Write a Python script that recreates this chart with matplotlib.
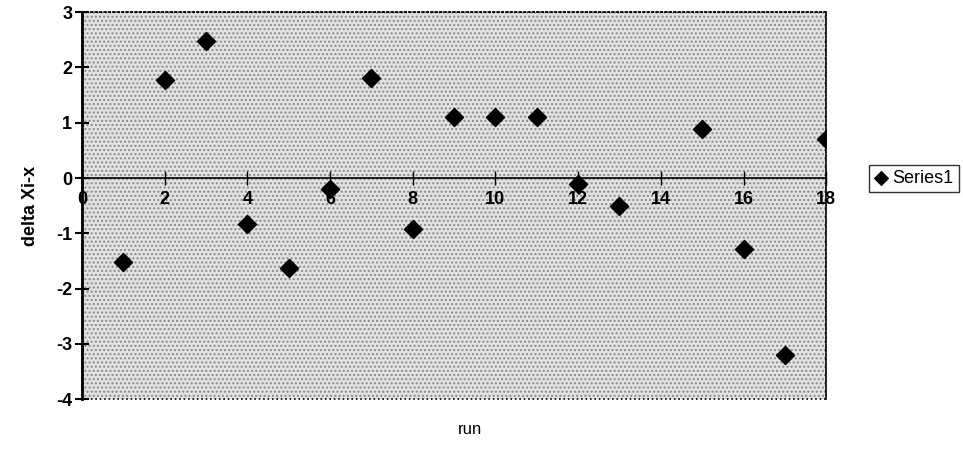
import matplotlib
matplotlib.use("Agg")
import matplotlib.pyplot as plt
from matplotlib.patches import Rectangle

plt.rcParams['font.family'] = ['Liberation Sans', 'DejaVu Sans']
plt.rcParams['axes.unicode_minus'] = False

runs = [1, 2, 3, 4, 5, 6, 7, 8, 9, 10, 11, 12, 13, 15, 16, 17, 18]
delta = [-1.52, 1.77, 2.48, -0.83, -1.63, -0.19, 1.81, -0.92, 1.10, 1.10, 1.10,
         -0.10, -0.50, 0.89, -1.28, -3.20, 0.70]
xticks = list(range(0, 19, 2))
yticks = list(range(-4, 4))

fig = plt.figure(figsize=(9.63, 4.51), dpi=100)
ax = fig.add_axes([0.085, 0.115, 0.773, 0.858])
ax.set_facecolor('#e2e2e2')
ax.add_patch(Rectangle((0, 0), 1, 1, transform=ax.transAxes, facecolor='none',
                       edgecolor='#8a8a8a', hatch='....', linewidth=0, zorder=0))

ax.scatter(runs, delta, marker='D', s=85, color='black', zorder=3, label='Series1')

ax.set_xlim(0, 18)
ax.set_ylim(-4, 3)
ax.set_xticks(xticks)
ax.set_yticks(yticks)

ax.spines['bottom'].set_position(('data', 0))
ax.spines['bottom'].set_linewidth(1.2)
ax.spines['left'].set_linewidth(2.0)
for s in ['top', 'right']:
    ax.spines[s].set_linestyle(':')
    ax.spines[s].set_linewidth(1.2)
ax.add_patch(Rectangle((0, 0), 1, 1, transform=ax.transAxes, facecolor='none',
                       edgecolor='black', linestyle=':', linewidth=1.2, zorder=2,
                       clip_on=False))

ax.tick_params(axis='x', direction='inout', length=10, width=1, labelsize=13, pad=4)
ax.tick_params(axis='y', direction='inout', length=10, width=1.5, labelsize=13, pad=2)
for lab in ax.get_xticklabels() + ax.get_yticklabels():
    lab.set_fontweight('bold')

ax.set_ylabel('delta Xi-x', fontsize=13, fontweight='bold', labelpad=12)
fig.text(0.488, 0.03, 'run', ha='center', va='bottom', fontsize=12)

leg = ax.legend(loc='center left', bbox_to_anchor=(1.045, 0.57), frameon=True,
                fancybox=False, edgecolor='black', fontsize=13, handletextpad=0.2,
                handlelength=0.8, borderpad=0.3, markerscale=0.75)
leg.get_frame().set_linewidth(1.0)

fig.savefig('out.png', dpi=100)
